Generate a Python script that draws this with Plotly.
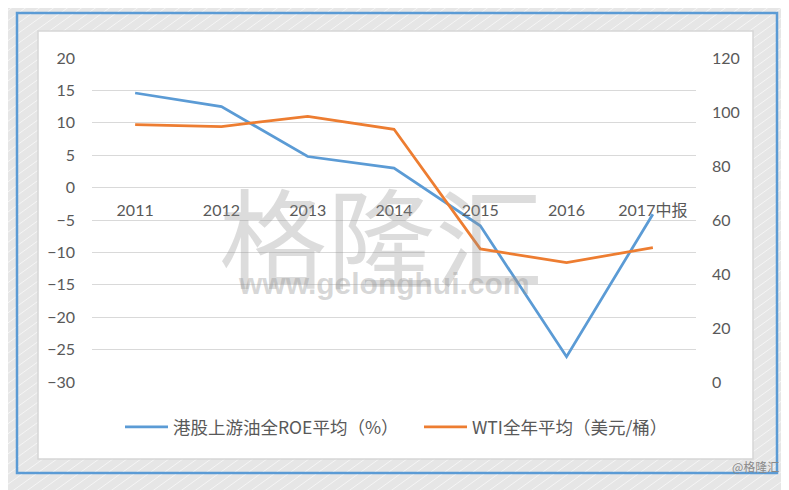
import plotly.graph_objects as go

categories = ["2011", "2012", "2013", "2014", "2015", "2016", "2017中报"]
roe_avg = [14.6, 12.5, 4.8, 3.0, -5.9, -26.1, -4.1]
wti_avg = [95.3, 94.6, 98.4, 93.6, 49.3, 44.2, 49.8]
roe_name = "港股上游油全ROE平均（%）"
wti_name = "WTI全年平均（美元/桶）"

# page body has an 8px margin: the figure starts at screen (8, 8)
OFF = 8
W, H = 789 - OFF, 490 - OFF
PL, PR, PT, PB = 92, 696, 58, 382          # plot area in screen pixels
L, R, T, B = PL - OFF, 789 - PR, PT - OFF, 490 - PB
pw, ph = PR - PL, PB - PT

def px(x):
    return (x - PL) / pw

def py(y):
    return (PB - y) / ph

FONT = "Lato, 'Noto Sans CJK SC', sans-serif"
TXT = "#595959"

fig = go.Figure()
fig.add_trace(go.Scatter(x=categories, y=roe_avg, name=roe_name, mode="lines",
                         line=dict(color="#5B9BD5", width=2.75), yaxis="y"))
fig.add_trace(go.Scatter(x=categories, y=wti_avg, name=wti_name, mode="lines",
                         line=dict(color="#ED7D31", width=2.75), yaxis="y2"))

shapes = []
# decorative diagonal hatching of the grey background
slope = 0.72
x0 = -int(490 / slope) - 20
while x0 < 800:
    shapes.append(dict(type="line", xref="paper", yref="paper",
                       x0=px(x0), y0=py(500), x1=px(x0 + 510 / slope), y1=py(-10),
                       line=dict(color="rgba(255,255,255,0.6)", width=1), layer="below"))
    x0 += 14
shapes += [
    # white chart area
    dict(type="rect", xref="paper", yref="paper", x0=px(38), x1=px(753), y0=py(459), y1=py(31),
         line=dict(color="#D6D6D6", width=1.5), fillcolor="white", layer="below"),
    # blue outer frame
    dict(type="rect", xref="paper", yref="paper", x0=px(17), x1=px(777), y0=py(473), y1=py(13),
         line=dict(color="#5B9BD5", width=2.5), fillcolor="rgba(0,0,0,0)", layer="below"),
]

annotations = [
    dict(text="格隆汇", xref="paper", yref="paper", x=px(381), y=py(233), showarrow=False,
         font=dict(family="'Noto Sans CJK SC'", size=108, color="rgba(150,150,150,0.33)")),
    dict(text="<b>www.gelonghui.com</b>", xref="paper", yref="paper", x=px(384), y=py(302),
         showarrow=False, font=dict(family="'Liberation Sans'", size=30, color="rgba(150,150,150,0.38)")),
    dict(text="@格隆汇", xref="paper", yref="paper", x=px(781), y=py(477), xanchor="right",
         showarrow=False, font=dict(family="'Noto Sans CJK SC'", size=12, color="#8a8a8a")),
]

fig.update_layout(
    width=W, height=H,
    margin=dict(l=L, r=R, t=T, b=B, pad=0),
    paper_bgcolor="#E6E6E6",
    plot_bgcolor="rgba(0,0,0,0)",
    font=dict(family=FONT, size=16, color=TXT),
    shapes=shapes,
    annotations=annotations,
    xaxis=dict(type="category", range=[-0.5, 6.5], anchor="free", position=0.6,
               showgrid=False, showline=False, zeroline=False, ticks="",
               ticklabelstandoff=11, tickfont=dict(size=16, color=TXT)),
    yaxis=dict(range=[-30, 20], dtick=5, showgrid=True, gridcolor="#D9D9D9", gridwidth=1,
               zeroline=False, showline=False, ticks="", ticklabelstandoff=16,
               tickfont=dict(size=16, color=TXT)),
    yaxis2=dict(range=[0, 120], dtick=20, overlaying="y", side="right", showgrid=False,
                zeroline=False, showline=False, ticks="", ticklabelstandoff=15,
                tickfont=dict(size=16, color=TXT)),
    legend=dict(orientation="h", x=px(120), xanchor="left", y=py(427), yanchor="middle",
                font=dict(family="'Noto Sans CJK SC'", size=17.5, color=TXT),
                bgcolor="rgba(0,0,0,0)", entrywidth=241, itemwidth=43),
    showlegend=True,
)

fig.write_html("out.html")
